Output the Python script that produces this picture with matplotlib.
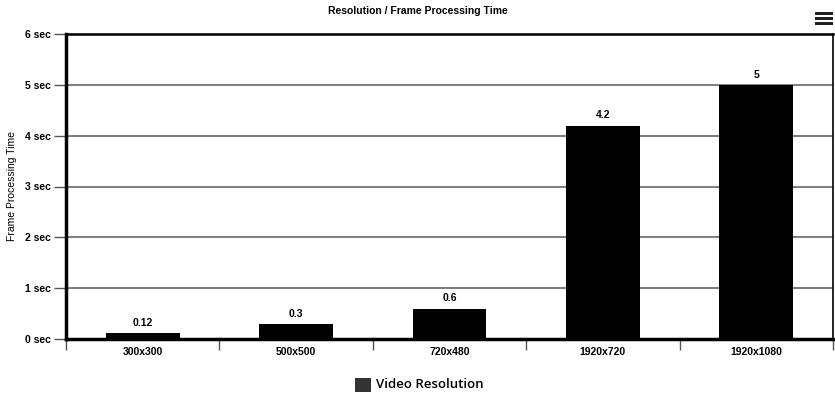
import matplotlib
matplotlib.use("Agg")
import matplotlib.pyplot as plt
from matplotlib.patches import Rectangle

categories = ["300x300", "500x500", "720x480", "1920x720", "1920x1080"]
values = [0.12, 0.3, 0.6, 4.2, 5]
value_labels = ["0.12", "0.3", "0.6", "4.2", "5"]
yticks = [0, 1, 2, 3, 4, 5, 6]
ytick_labels = [f"{t} sec" for t in yticks]

plt.rcParams['font.family'] = ['Liberation Sans', 'DejaVu Sans']

fig = plt.figure(figsize=(8.35, 3.97), dpi=100)
ax = fig.add_axes([66/835, 1-339/397, (833-66)/835, (339-34)/397])

x = list(range(len(categories)))
ax.bar(x, values, width=0.48, color="black", zorder=3)
for xi, v, lab in zip(x, values, value_labels):
    ax.text(xi, v + 0.1, lab, ha="center", va="bottom", fontsize=7.5, fontweight="bold")

ax.set_xlim(-0.5, len(categories) - 0.5)
ax.set_ylim(0, 6)
ax.set_yticks(yticks)
ax.set_yticklabels(ytick_labels, fontsize=7.5, fontweight="bold")
ax.set_xticks(x)
ax.set_xticklabels(categories, fontsize=7.5, fontweight="bold")
ax.set_xticks([i - 0.5 for i in range(len(categories) + 1)], minor=True)
ax.tick_params(axis="x", which="major", length=0, pad=6)
ax.tick_params(axis="x", which="minor", length=8, width=1, color="#555555")
ax.tick_params(axis="y", length=9, width=1, color="#555555", pad=2)
ax.grid(axis="y", color="#666666", linewidth=1.2, zorder=0)

for side in ["left", "bottom"]:
    ax.spines[side].set_linewidth(2.5)
    ax.spines[side].set_color("black")
ax.spines["top"].set_linewidth(1.8)
ax.spines["top"].set_color("black")
ax.spines["right"].set_linewidth(1.2)
ax.spines["right"].set_color("black")

fig.text(12/835, 1 - 186/397, "Frame Processing Time", rotation=90, ha="center", va="center",
         fontsize=7.5)

fig.text(0.5, 1 - 11/397, "Resolution / Frame Processing Time", ha="center", va="center",
         fontsize=7.5, fontweight="bold", family=['Liberation Sans Narrow', 'Liberation Sans', 'DejaVu Sans'])

# legend
fig.patches.append(Rectangle((355/835, 1-392/397), 16/835, 14/397, transform=fig.transFigure,
                             facecolor="#333333", edgecolor="none"))
fig.text(376/835, 1-385/397, "Video Resolution", ha="left", va="center", fontsize=9.5,
         fontweight="semibold", family=['Open Sans', 'DejaVu Sans'])

# menu icon
for yy in [13.5, 18.5, 23.5]:
    fig.patches.append(Rectangle((815/835, 1-(yy+1.5)/397), 18/835, 3/397, transform=fig.transFigure,
                                 facecolor="#222222", edgecolor="none"))

fig.savefig("out.png", dpi=100)
